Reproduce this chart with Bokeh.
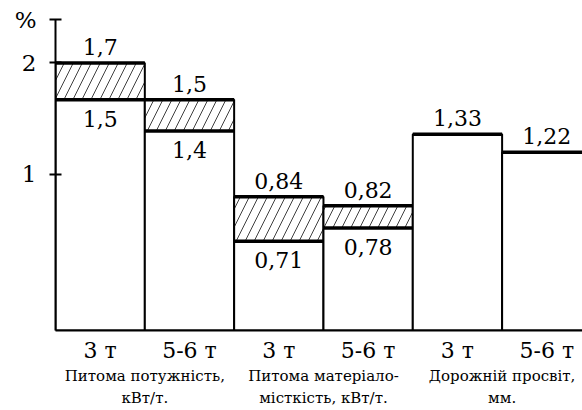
from bokeh.plotting import figure
from bokeh.models import Range1d, FixedTicker, LinearAxis, ColumnDataSource
from bokeh.core.properties import value
from bokeh.embed import file_html
from bokeh.resources import INLINE

# ---- data ----
categories = ["3 т", "5-6 т", "3 т", "5-6 т", "3 т", "5-6 т"]
groups = ["Питома потужність,\nкВт/т.",
          "Питома матеріало-\nмісткість, кВт/т.",
          "Дорожній просвіт,\nмм."]
upper_labels = ["1,7", "1,5", "0,84", "0,82", "1,33", "1,22"]
lower_labels = ["1,5", "1,4", "0,71", "0,78"]
# heights as drawn against the schematic axis (ticks 1 and 2)
upper_drawn = [2.00, 1.67, 0.80, 0.72, 1.36, 1.20]
lower_drawn = [1.67, 1.39, 0.40, 0.52]
y_ticks = [1, 2]
y_unit = "%"
y_min, y_max = -0.40, 2.39

SERIF = "DejaVu Serif"

n = len(categories)
left = list(range(n))
right = [i + 1 for i in left]
center = [i + 0.5 for i in left]
group_pos = [2 * g + 1.0 for g in range(len(groups))]

p = figure(width=582, height=410, x_range=Range1d(0, 5.9), y_range=Range1d(y_min, y_max),
           output_backend="svg", toolbar_location=None,
           x_axis_location=None, y_axis_location=None,
           min_border_left=55, min_border_right=0, min_border_top=19, min_border_bottom=0)
p.grid.visible = False
p.outline_line_color = None
p.background_fill_color = "white"

# y axis (the unit sign sits at the top tick)
overrides = {t: str(t) for t in y_ticks}
overrides[y_max] = y_unit
yaxis = LinearAxis(ticker=FixedTicker(ticks=y_ticks + [y_max]), major_label_overrides=overrides)
yaxis.axis_line_width = 2
yaxis.axis_line_color = "black"
yaxis.major_tick_line_width = 2
yaxis.major_tick_line_color = "black"
yaxis.major_tick_in = 6
yaxis.major_tick_out = 6
yaxis.minor_tick_line_color = None
yaxis.major_label_standoff = 13
yaxis.major_label_text_font = SERIF
yaxis.major_label_text_font_size = "23px"
yaxis.major_label_text_color = "black"
p.add_layout(yaxis, "left")

# x axis: bar categories
xaxis = LinearAxis(ticker=FixedTicker(ticks=center),
                   major_label_overrides={c: lab for c, lab in zip(center, categories)})
xaxis.axis_line_width = 2
xaxis.axis_line_color = "black"
xaxis.major_tick_line_color = None
xaxis.major_tick_in = 0
xaxis.major_tick_out = 0
xaxis.minor_tick_line_color = None
xaxis.major_label_standoff = 7
xaxis.major_label_text_font = SERIF
xaxis.major_label_text_font_size = "22px"
xaxis.major_label_text_color = "black"
p.add_layout(xaxis, "below")

# x axis: group names
gaxis = LinearAxis(ticker=FixedTicker(ticks=group_pos),
                   major_label_overrides={g: lab for g, lab in zip(group_pos, groups)})
gaxis.axis_line_color = None
gaxis.major_tick_line_color = None
gaxis.major_tick_in = 0
gaxis.major_tick_out = 0
gaxis.minor_tick_line_color = None
gaxis.major_label_standoff = 1
gaxis.major_label_text_font = SERIF
gaxis.major_label_text_font_size = "15px"
gaxis.major_label_text_line_height = 1.25
gaxis.major_label_text_color = "black"
p.add_layout(gaxis, "below")

# bars
bars = ColumnDataSource(dict(left=left, right=right, center=center,
                             top=upper_drawn, bottom=[y_min] * n, label=upper_labels))
p.quad(left="left", right="right", bottom="bottom", top="top", source=bars,
       fill_color="white", line_color="black", line_width=2)

m = len(lower_drawn)
band = ColumnDataSource(dict(left=left[:m], right=right[:m], center=center[:m],
                             top=upper_drawn[:m], bottom=lower_drawn, label=lower_labels))
p.quad(left="left", right="right", bottom="bottom", top="top", source=band,
       fill_color=None, line_color=None, hatch_pattern="/", hatch_color="black",
       hatch_weight=1, hatch_scale=18, hatch_alpha=0.75)

# thick horizontal lines
p.segment(x0="left", x1="right", y0="top", y1="top", source=bars, line_width=3.5, line_color="black")
p.segment(x0="left", x1="right", y0="bottom", y1="bottom", source=band, line_width=3.5, line_color="black")

# value labels
p.text(x="center", y="top", text="label", source=bars, text_align="center",
       text_baseline="bottom", y_offset=-8, text_font=value(SERIF),
       text_font_size="22px", text_color="black")
p.text(x="center", y="bottom", text="label", source=band, text_align="center",
       text_baseline="top", y_offset=11, text_font=value(SERIF),
       text_font_size="22px", text_color="black")

open("out.html", "w").write(file_html(p, INLINE))
